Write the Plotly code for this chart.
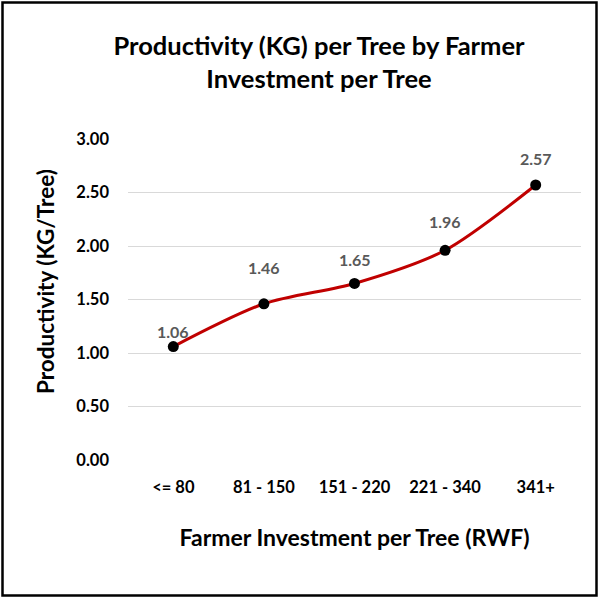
import plotly.graph_objects as go

categories = ["<= 80", "81 - 150", "151 - 220", "221 - 340", "341+"]
productivity = [1.06, 1.46, 1.65, 1.96, 2.57]
labels = ["1.06", "1.46", "1.65", "1.96", "2.57"]
y_ticks = [0, 0.5, 1.0, 1.5, 2.0, 2.5, 3.0]

# styling: pixel offset of each data label above its marker
label_lift = [15, 36, 24, 29, 27]

FONT = "Lato"

fig = go.Figure()
fig.add_trace(go.Scatter(
    x=categories, y=productivity,
    mode="lines+markers",
    line=dict(color="#C00000", width=3, shape="spline", smoothing=0.8),
    marker=dict(color="black", size=11),
    cliponaxis=False, showlegend=False, hoverinfo="x+y",
))

for cat, val, txt, lift in zip(categories, productivity, labels, label_lift):
    fig.add_annotation(x=cat, y=val, text=txt, showarrow=False,
                       yanchor="middle", yshift=lift,
                       font=dict(family=FONT, size=16, color="#595959", weight="bold"))

L, R, T, B = 128, 19, 139, 138
W, H = 600, 598
pw, ph = W - L - R, H - T - B

def px_to_paper_x(px):
    return (px - L) / pw

def py_to_paper_y(py):
    return (H - B - py) / ph

fig.add_shape(type="rect", xref="paper", yref="paper",
              x0=px_to_paper_x(2.5), x1=px_to_paper_x(596.5),
              y0=py_to_paper_y(595.5), y1=py_to_paper_y(2.5),
              line=dict(color="black", width=2.5), fillcolor="rgba(0,0,0,0)", layer="below")

fig.add_annotation(text="Productivity (KG/Tree)", xref="paper", yref="paper",
                   x=px_to_paper_x(45), y=py_to_paper_y(282),
                   xanchor="center", yanchor="middle", textangle=-90, showarrow=False,
                   font=dict(family=FONT, size=22.5, color="black", weight="bold"))

fig.update_layout(
    width=W, height=H,
    margin=dict(l=L, r=R, t=T, b=B),
    paper_bgcolor="white", plot_bgcolor="white",
    title=dict(text="Productivity (KG) per Tree by Farmer<br>Investment per Tree",
               x=px_to_paper_x(319), xref="paper", xanchor="center",
               y=1 - 55 / H, yanchor="middle",
               font=dict(family=FONT, size=25.5, color="black", weight="bold")),
    xaxis=dict(
        type="category", range=[-0.5, 4.5],
        showgrid=False, zeroline=False, showline=False,
        ticks="", ticklabelstandoff=15,
        tickfont=dict(family=FONT, size=16.5, color="black", weight="bold"),
        title=dict(text="Farmer Investment per Tree (RWF)", standoff=34,
                   font=dict(family=FONT, size=23, color="black", weight="bold")),
    ),
    yaxis=dict(
        range=[0, 3], tickvals=y_ticks, tickformat=".2f",
        showgrid=True, gridcolor="#D9D9D9", gridwidth=1, zeroline=False,
        showline=False, ticks="", ticklabelstandoff=18,
        tickfont=dict(family=FONT, size=16.5, color="black", weight="bold"),
    ),
)

fig.write_html("out.html", config={"displayModeBar": False},
               post_script="document.body.style.margin='0';")
